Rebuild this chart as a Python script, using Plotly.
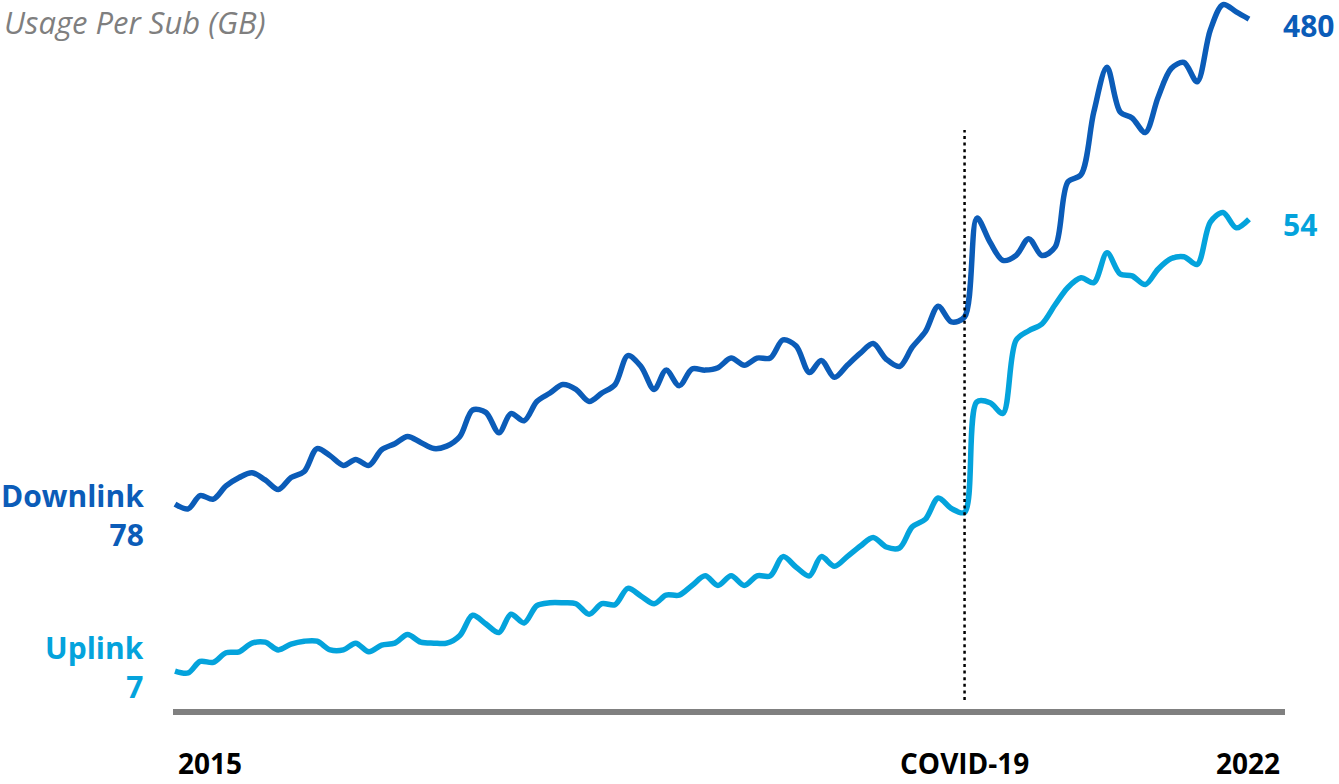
import pandas as pd
import plotly.graph_objects as go

# Monthly usage per subscriber, Jan 2015 - Dec 2021 (GB)
months = pd.date_range("2015-01-01", periods=84, freq="MS")

downlink = [
    78, 74, 85, 82, 93, 100, 104, 98, 90, 100, 105, 124,
    118, 110, 115, 110, 123, 128, 134, 129, 124, 126, 134, 156,
    154, 137, 153, 147, 163, 170, 177, 173, 163, 170, 177, 201,
    192, 173, 189, 176, 190, 189, 191, 199, 193, 199, 199, 214,
    209, 187, 197, 183, 193, 203, 211, 198, 192, 208, 221, 242,
    229, 233, 315, 295, 280, 284, 298, 284, 291, 345, 351, 403,
    440, 403, 398, 386, 415, 439, 444, 428, 471, 492, 486, 480,
]

uplink = [
    7.0, 6.8, 8.0, 7.9, 8.9, 9.0, 9.9, 10.0, 9.2, 9.8, 10.1, 10.1,
    9.2, 9.2, 9.9, 9.0, 9.7, 9.9, 10.8, 10.0, 9.9, 9.9, 10.7, 12.8,
    11.9, 11.0, 12.9, 12.0, 13.8, 14.1, 14.1, 14.0, 12.9, 14.0, 13.9, 15.6,
    14.8, 14.0, 14.9, 14.9, 15.9, 16.9, 15.9, 16.9, 15.9, 16.9, 16.9, 18.9,
    17.8, 16.9, 18.9, 17.9, 18.9, 20.0, 20.9, 19.9, 19.8, 22.0, 22.8, 25.0,
    23.9, 23.5, 35.0, 34.9, 33.8, 41.4, 42.4, 43.1, 45.1, 46.9, 47.9, 47.4,
    50.5, 48.3, 48.1, 47.2, 48.8, 49.9, 50.1, 49.3, 53.7, 54.7, 53.1, 54.0,
]

covid_month = months[61]
axis_labels = ["2015", "COVID-19", "2022"]

DARK_BLUE = "#0B5CB8"
LIGHT_BLUE = "#04A3DC"
FONT = "Open Sans"

W, H = 1339, 784
BOTTOM = 75
PLOT_H = H - BOTTOM

fig = go.Figure()
fig.add_trace(go.Scatter(
    x=months, y=downlink, mode="lines", yaxis="y",
    line=dict(color=DARK_BLUE, width=5.5, shape="spline", smoothing=0.9),
    hoverinfo="skip",
))
fig.add_trace(go.Scatter(
    x=months, y=uplink, mode="lines", yaxis="y2",
    line=dict(color=LIGHT_BLUE, width=5.5, shape="spline", smoothing=0.9),
    hoverinfo="skip",
))

# x range: first month sits just inside the left end of the axis line,
# the right end leaves room for the end-value labels
span_days = (months[-1] - months[0]).days
px_per_day = 1074 / span_days
x_start = months[0] - pd.Timedelta(days=2 / px_per_day)
x_end = months[-1] + pd.Timedelta(days=36 / px_per_day)

fig.update_layout(
    width=W, height=H,
    margin=dict(l=0, r=0, t=0, b=BOTTOM),
    paper_bgcolor="white", plot_bgcolor="white",
    showlegend=False, hovermode=False,
    xaxis=dict(
        domain=[173 / W, 1285 / W], range=[x_start, x_end],
        showline=True, linecolor="#808080", linewidth=6,
        showticklabels=False, showgrid=False, zeroline=False, ticks="",
    ),
    yaxis=dict(range=[-91.9, 495.8], visible=False, showgrid=False, zeroline=False),
    yaxis2=dict(range=[3.05, 76.8], overlaying="y", visible=False,
                showgrid=False, zeroline=False),
)

# COVID-19 marker
fig.add_shape(
    type="line", xref="x", yref="paper",
    x0=covid_month, x1=covid_month,
    y0=(PLOT_H - 700) / PLOT_H, y1=(PLOT_H - 130) / PLOT_H,
    line=dict(color="black", width=2.5, dash="3px,3.6px"),
)

def note(text, **kw):
    base = dict(showarrow=False, borderpad=0, font=dict(family=FONT, size=28))
    base.update(kw)
    fig.add_annotation(text=text, **base)

# title, box resting on the top edge of the page
note("<i>Usage Per Sub (GB)</i>", xref="paper", yref="paper",
     x=3 / W, y=1, xanchor="left", yanchor="top",
     font=dict(family=FONT, size=31, color="#7F7F7F"))

# series start labels
note(f"<b>Downlink</b><br><b>{downlink[0]}</b>", x=months[0], y=downlink[0], yref="y",
     xanchor="right", yanchor="middle", align="right", xshift=-30, yshift=-11,
     font=dict(family=FONT, size=30, color=DARK_BLUE))
note(f"<b>Uplink</b><br><b>{uplink[0]:g}</b>", x=months[0], y=uplink[0], yref="y2",
     xanchor="right", yanchor="middle", align="right", xshift=-30, yshift=4,
     font=dict(family=FONT, size=30, color=LIGHT_BLUE))

# series end labels
note(f"<b>{downlink[-1]}</b>", x=months[-1], y=downlink[-1], yref="y",
     xanchor="left", yanchor="middle", xshift=33, yshift=-6,
     font=dict(family=FONT, size=30, color=DARK_BLUE))
note(f"<b>{uplink[-1]:g}</b>", x=months[-1], y=uplink[-1], yref="y2",
     xanchor="left", yanchor="middle", xshift=33, yshift=-5,
     font=dict(family=FONT, size=30, color=LIGHT_BLUE))

# axis labels, boxes resting on the bottom edge of the page
lab_y = -(H - 1 - PLOT_H) / PLOT_H
note(f"<b>{axis_labels[0]}</b>", xref="paper", yref="paper", x=173 / W, y=lab_y,
     xanchor="left", yanchor="bottom", xshift=4, font=dict(family=FONT, size=28, color="black"))
note(f"<b>{axis_labels[1]}</b>", x=covid_month, yref="paper", y=lab_y,
     xanchor="center", yanchor="bottom", font=dict(family=FONT, size=28, color="black"))
note(f"<b>{axis_labels[2]}</b>", xref="paper", yref="paper", x=1285 / W, y=lab_y,
     xanchor="right", yanchor="bottom", xshift=-4, font=dict(family=FONT, size=28, color="black"))

fig.write_html("out.html")
